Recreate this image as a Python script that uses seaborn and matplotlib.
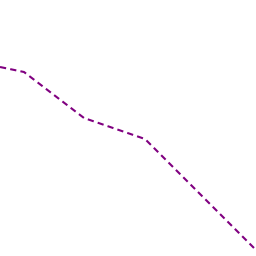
import matplotlib
matplotlib.use("Agg")
import matplotlib.pyplot as plt
import seaborn as sns
import pandas as pd

x_vals = [0, 24, 84, 145, 256]
y_vals = [67, 72, 118, 139, 250]

df = pd.DataFrame({"x": x_vals, "y": y_vals})

fig = plt.figure(figsize=(2.56, 2.56), dpi=100)
ax = fig.add_axes([0, 0, 1, 1])
sns.lineplot(data=df, x="x", y="y", ax=ax, color="#800080", linewidth=1.5,
             linestyle=(0, (3, 2)))
ax.set_xlim(0, 256)
ax.set_ylim(256, 0)
ax.axis("off")
fig.savefig("out.png", dpi=100)
